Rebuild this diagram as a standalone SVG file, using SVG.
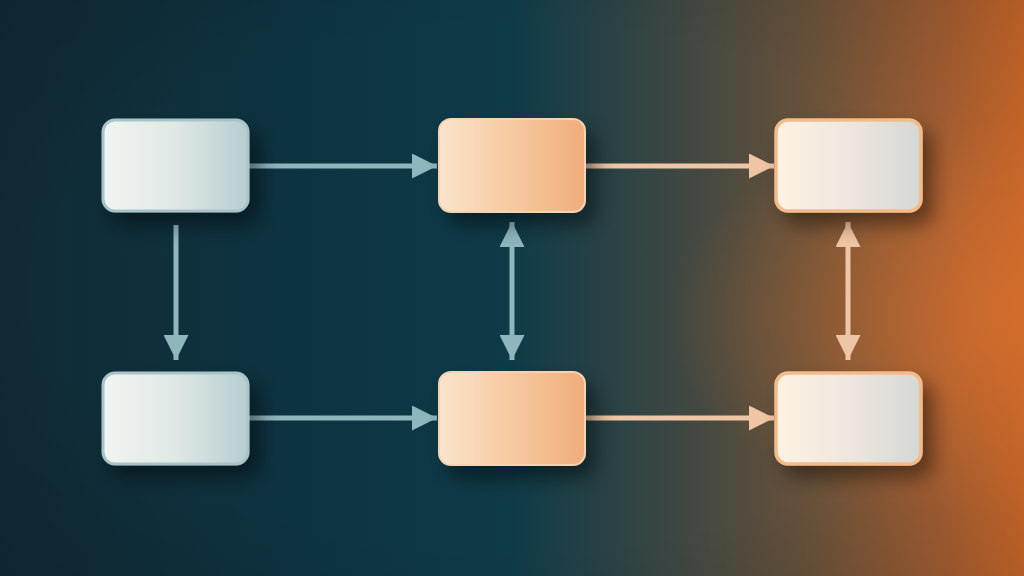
<svg xmlns="http://www.w3.org/2000/svg" width="1024" height="576" viewBox="0 0 1024 576">
<defs>
<linearGradient id="bg" x1="0" y1="0" x2="1" y2="0">
<stop offset="0" stop-color="#102b35"/>
<stop offset="0.3" stop-color="#0d3341"/>
<stop offset="0.5" stop-color="#0e3b48"/>
<stop offset="0.65" stop-color="#3a4643"/>
<stop offset="0.8" stop-color="#6b5239"/>
<stop offset="0.92" stop-color="#a45e32"/>
<stop offset="1" stop-color="#cf6a2a"/>
</linearGradient>
<radialGradient id="glow" cx="1" cy="0.55" r="0.35">
<stop offset="0" stop-color="#e0732c" stop-opacity="0.55"/>
<stop offset="1" stop-color="#e0732c" stop-opacity="0"/>
</radialGradient>
<radialGradient id="vig" cx="0.5" cy="0.5" r="0.75">
<stop offset="0.6" stop-color="#000" stop-opacity="0"/>
<stop offset="1" stop-color="#000" stop-opacity="0.15"/>
</radialGradient>
<linearGradient id="gTeal" x1="0" y1="0" x2="1" y2="0">
<stop offset="0" stop-color="#f2f5f2"/>
<stop offset="0.5" stop-color="#dfe8e5"/>
<stop offset="1" stop-color="#b7cdd0"/>
</linearGradient>
<linearGradient id="gPeach" x1="0" y1="0" x2="1" y2="0">
<stop offset="0" stop-color="#fbe4cb"/>
<stop offset="0.5" stop-color="#f6c9a0"/>
<stop offset="1" stop-color="#f1ad7b"/>
</linearGradient>
<linearGradient id="gCream" x1="0" y1="0" x2="1" y2="0">
<stop offset="0" stop-color="#fdf1e2"/>
<stop offset="0.5" stop-color="#efe7de"/>
<stop offset="1" stop-color="#d4d8d5"/>
</linearGradient>
<filter id="sh" x="-30%" y="-30%" width="170%" height="180%">
<feDropShadow dx="10" dy="12" stdDeviation="10" flood-color="#000" flood-opacity="0.45"/>
</filter>
<marker id="hTeal" viewBox="0 0 10 10" refX="10" refY="5" markerWidth="5.4" markerHeight="5" orient="auto-start-reverse" markerUnits="strokeWidth">
<path d="M0,0 L10,5 L0,10 z" fill="#8fb5bd"/>
</marker>
<marker id="hPeach" viewBox="0 0 10 10" refX="10" refY="5" markerWidth="5.4" markerHeight="5" orient="auto-start-reverse" markerUnits="strokeWidth">
<path d="M0,0 L10,5 L0,10 z" fill="#efc6a5"/>
</marker>
</defs>
<style>
.teal{stroke:#8fb5bd;stroke-width:5;fill:none}
.peach{stroke:#efc6a5;stroke-width:5;fill:none}
.nTeal{fill:url(#gTeal);stroke:#a9c4c9;stroke-width:3}
.nPeach{fill:url(#gPeach);stroke:#f4d3b4;stroke-width:2}
.nCream{fill:url(#gCream);stroke:#f3bb88;stroke-width:3.5}
</style>
<rect width="1024" height="576" fill="url(#bg)"/>
<rect width="1024" height="576" fill="url(#glow)"/>
<rect width="1024" height="576" fill="url(#vig)"/>
<g id="connectors">
<line class="teal" x1="249" y1="166" x2="437" y2="166" marker-end="url(#hTeal)"/>
<line class="teal" x1="249" y1="418" x2="437" y2="418" marker-end="url(#hTeal)"/>
<line class="peach" x1="585" y1="166" x2="774" y2="166" marker-end="url(#hPeach)"/>
<line class="peach" x1="585" y1="418" x2="774" y2="418" marker-end="url(#hPeach)"/>
<line class="teal" x1="176" y1="225" x2="176" y2="360" marker-end="url(#hTeal)"/>
<line class="teal" x1="512" y1="222" x2="512" y2="360" marker-start="url(#hTeal)" marker-end="url(#hTeal)"/>
<line class="peach" x1="848" y1="222" x2="848" y2="360" marker-start="url(#hPeach)" marker-end="url(#hPeach)"/>
</g>
<g id="node-a" filter="url(#sh)"><rect class="nTeal" x="103" y="120" width="145" height="91" rx="12"/></g>
<g id="node-b" filter="url(#sh)"><rect class="nPeach" x="439" y="119" width="146" height="93" rx="12"/></g>
<g id="node-c" filter="url(#sh)"><rect class="nCream" x="776" y="120" width="145" height="91" rx="12"/></g>
<g id="node-d" filter="url(#sh)"><rect class="nTeal" x="103" y="373" width="145" height="91" rx="12"/></g>
<g id="node-e" filter="url(#sh)"><rect class="nPeach" x="439" y="372" width="146" height="93" rx="12"/></g>
<g id="node-f" filter="url(#sh)"><rect class="nCream" x="776" y="373" width="145" height="91" rx="12"/></g>
</svg>
